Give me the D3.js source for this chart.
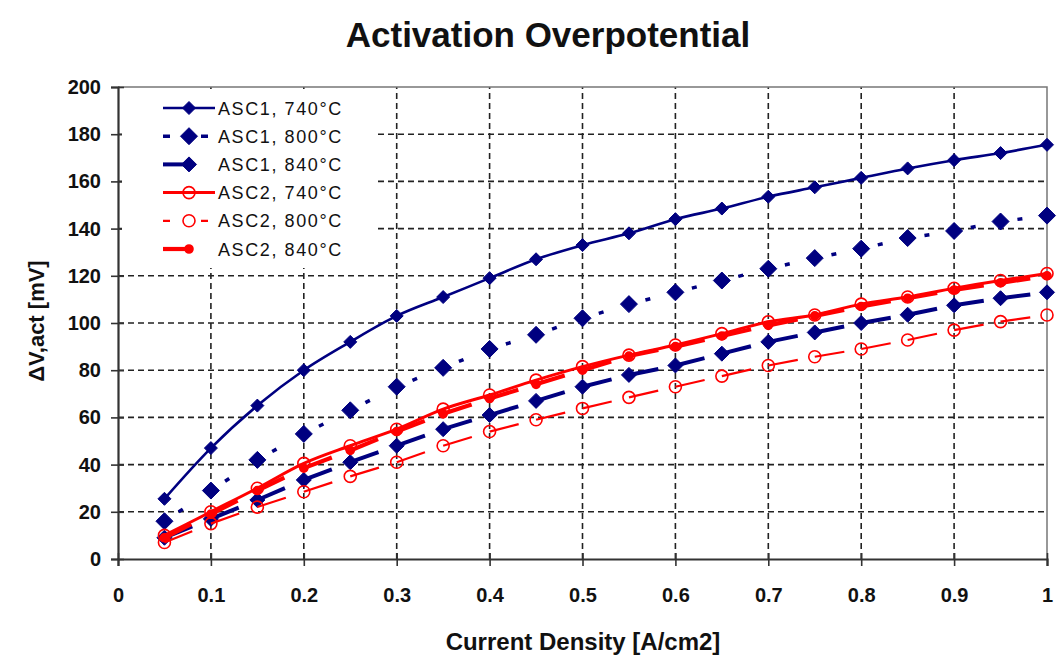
<!DOCTYPE html>
<meta charset="utf-8">
<title>Activation Overpotential</title>
<style>
  body { margin: 0; background: #fff; }
  text { font-family: "Liberation Sans", Arial, sans-serif; fill: #111; }
</style>
<body>
<script src="https://cdn.jsdelivr.net/npm/d3@7"></script>
<script>

// current density [A/cm2]
const density = [0.05, 0.1, 0.15, 0.2, 0.25, 0.3, 0.35, 0.4, 0.45, 0.5,
                 0.55, 0.6, 0.65, 0.7, 0.75, 0.8, 0.85, 0.9, 0.95, 1.0];

// activation overpotential [mV]
const asc1_740 = [25.5, 47, 65, 80, 92, 103, 111, 119, 127, 133, 138, 144, 148.5, 153.5, 157.5, 161.5, 165.5, 169, 172, 175.5];
const asc1_800 = [16, 29, 42, 53, 63, 73, 81, 89, 95, 102, 108, 113, 118, 123, 127.5, 131.5, 136, 139, 143, 145.5];
const asc1_840 = [9, 17, 25, 33.5, 41, 48, 55, 61, 67, 73, 78, 82, 87, 92, 96, 100, 103.5, 107.5, 110.5, 113];
const asc2_740 = [10, 20, 30, 40.5, 48, 55, 63.5, 69.5, 75.8, 81.5, 86.4, 90.7, 95.5, 100.5, 103.4, 108, 111, 114.7, 118, 121];
const asc2_800 = [7, 15, 22, 28.5, 35, 41, 48, 54, 59, 63.8, 68.5, 73, 77.5, 82, 85.7, 89, 92.8, 97, 100.6, 103.4];
const asc2_840 = [9, 19, 29, 38.5, 46, 54, 61.5, 68, 74, 80, 86, 90, 94.5, 99, 103, 107, 110.5, 114, 117, 120];

const seriesNames = ["ASC1, 740°C", "ASC1, 800°C", "ASC1, 840°C", "ASC2, 740°C", "ASC2, 800°C", "ASC2, 840°C"];

const xTicks = [0, 0.1, 0.2, 0.3, 0.4, 0.5, 0.6, 0.7, 0.8, 0.9, 1];
const yTicks = [0, 20, 40, 60, 80, 100, 120, 140, 160, 180, 200];

const width = 1058, height = 664;
const navy = "#000080", red = "#ff0000";

// how each series is drawn; legDash is the pattern for the short legend sample
const styles = [
  { values: asc1_740, color: navy, w: 2.6, dash: null,        legDash: null,         marker: "diamond", size: 6.5, fill: navy },
  { values: asc1_800, color: navy, w: 3.5, dash: "0,17,5,12", legDash: "7,31,7,100", marker: "diamond", size: 8.5, fill: navy },
  { values: asc1_840, color: navy, w: 4,   dash: "30,100",    legDash: "30,100",     marker: "diamond", size: 7.5, fill: navy },
  { values: asc2_740, color: red,  w: 3,   dash: null,        legDash: null,         marker: "circle",  size: 6,   fill: "none" },
  { values: asc2_800, color: red,  w: 2.2, dash: "30,100",    legDash: "7,31,7,100", marker: "circle",  size: 6,   fill: "none" },
  { values: asc2_840, color: red,  w: 4.2, dash: "30,100",    legDash: "30,100",     marker: "circle",  size: 4,   fill: red },
];

const x = d3.scaleLinear().domain([0, 1]).range([118, 1047]);
const y = d3.scaleLinear().domain([0, 200]).range([559, 87]);

const svg = d3.select("body").append("svg")
    .attr("width", width)
    .attr("height", height);

// title
svg.append("text")
    .attr("x", 548).attr("y", 47)
    .attr("text-anchor", "middle")
    .style("font-size", "35px").style("font-weight", "bold")
    .text("Activation Overpotential");

// grid
const grid = svg.append("g")
    .attr("stroke", "#222").attr("stroke-width", 1.6).attr("stroke-dasharray", "6,4");
grid.selectAll(".h").data(yTicks.filter(d => d > 0 && d < 200)).enter().append("line")
    .attr("x1", x(0)).attr("x2", x(1))
    .attr("y1", d => y(d)).attr("y2", d => y(d));
grid.selectAll(".v").data(xTicks.filter(d => d > 0 && d < 1)).enter().append("line")
    .attr("y1", y(0)).attr("y2", y(200))
    .attr("x1", d => x(d)).attr("x2", d => x(d));

// top and right frame
svg.append("path")
    .attr("d", `M${x(0)},${y(200)}H${x(1)}V${y(0)}`)
    .attr("fill", "none").attr("stroke", "#777").attr("stroke-width", 1.5);

// axes
const xAxis = svg.append("g")
    .attr("transform", `translate(0,${y(0)})`)
    .call(d3.axisBottom(x).tickValues(xTicks).tickSize(7).tickPadding(22).tickFormat(d => String(+d.toFixed(1))));
const yAxis = svg.append("g")
    .attr("transform", `translate(${x(0)},0)`)
    .call(d3.axisLeft(y).tickValues(yTicks).tickSize(7).tickPadding(10));

[xAxis, yAxis].forEach(a => {
  a.select(".domain").attr("stroke", "#333").attr("stroke-width", 2.2);
  a.selectAll(".tick line").attr("stroke", "#333").attr("stroke-width", 1.6);
  a.selectAll(".tick text")
      .style("font-size", "20px").style("font-weight", "bold")
      .style("font-family", "'Liberation Sans', Arial, sans-serif").attr("fill", "#111");
});
xAxis.selectAll(".tick line").attr("y1", -6);
yAxis.selectAll(".tick line").attr("x1", 6);

// axis titles
svg.append("text")
    .attr("x", 583).attr("y", 650)
    .attr("text-anchor", "middle")
    .style("font-size", "24px").style("font-weight", "bold")
    .text("Current Density [A/cm2]");
svg.append("text")
    .attr("transform", "translate(44,321) rotate(-90)")
    .attr("text-anchor", "middle")
    .style("font-size", "22px").style("font-weight", "bold")
    .text("ΔV,act [mV]");

const diamond = s => `M0,${-s}L${s},0L0,${s}L${-s},0Z`;

function drawMarker(g, st, cx, cy) {
  if (st.marker === "diamond") {
    g.append("path").attr("d", diamond(st.size))
        .attr("transform", `translate(${cx},${cy})`)
        .attr("fill", st.fill).attr("stroke", st.color).attr("stroke-width", 1);
  } else {
    g.append("circle").attr("cx", cx).attr("cy", cy).attr("r", st.size)
        .attr("fill", st.fill).attr("stroke", st.color).attr("stroke-width", 1.6);
  }
}

const line = d3.line().x(d => x(d[0])).y(d => y(d[1]));

// series (Excel restarts the dash pattern on every segment)
styles.forEach(st => {
  const pts = density.map((d, i) => [d, st.values[i]]);
  const g = svg.append("g");
  if (st.dash) {
    d3.pairs(pts).forEach(p => {
      g.append("path").attr("d", line(p))
          .attr("fill", "none").attr("stroke", st.color)
          .attr("stroke-width", st.w).attr("stroke-dasharray", st.dash);
    });
  } else {
    g.append("path").attr("d", line.curve(d3.curveMonotoneX)(pts))
        .attr("fill", "none").attr("stroke", st.color).attr("stroke-width", st.w);
    line.curve(d3.curveLinear);
  }
  pts.forEach(p => drawMarker(g, st, x(p[0]), y(p[1])));
});

// legend
const legend = svg.append("g");
legend.append("rect")
    .attr("x", 122).attr("y", 90).attr("width", 256).attr("height", 178)
    .attr("fill", "#fff");
styles.forEach((st, i) => {
  const ly = 108 + i * 28.2;
  const g = legend.append("g");
  g.append("line")
      .attr("x1", 163).attr("x2", 215).attr("y1", ly).attr("y2", ly)
      .attr("stroke", st.color).attr("stroke-width", st.w)
      .attr("stroke-dasharray", st.legDash);
  drawMarker(g, st, 189, ly);
  g.append("text")
      .attr("x", 218).attr("y", ly + 6.5)
      .style("font-size", "18px").style("letter-spacing", "1.6px")
      .text(seriesNames[i]);
});

</script>
</body>
